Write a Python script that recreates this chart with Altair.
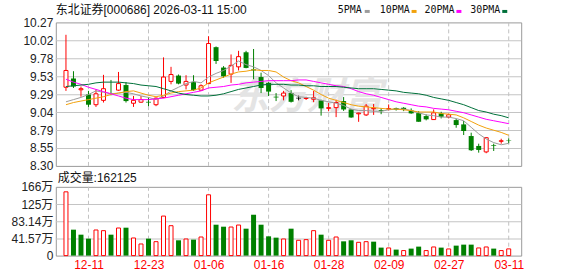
import json
import altair as alt
import pandas as pd

# ---------------- data ----------------
dates = ["12-08", "12-09", "12-10", "12-11", "12-12", "12-15", "12-16", "12-17", "12-18", "12-19",
         "12-22", "12-23", "12-24", "12-25", "12-26", "12-29", "12-30", "12-31", "01-05", "01-06",
         "01-07", "01-08", "01-09", "01-12", "01-13", "01-14", "01-15", "01-16", "01-19", "01-20",
         "01-21", "01-22", "01-23", "01-26", "01-27", "01-28", "01-29", "01-30", "02-02", "02-03",
         "02-04", "02-05", "02-06", "02-09", "02-10", "02-11", "02-12", "02-13", "02-24", "02-25",
         "02-26", "02-27", "03-02", "03-03", "03-04", "03-05", "03-06", "03-09", "03-10", "03-11"]

opens = [9.38, 9.50, 9.345, 9.28, 9.14, 9.20, 9.30, 9.34, 9.41, 9.16,
         9.175, 9.18, 9.14, 9.24, 9.46, 9.54, 9.41, 9.45, 9.34, 9.43,
         9.93, 9.65, 9.56, 9.66, 9.86, 9.625, 9.52, 9.44, 9.25, 9.26,
         9.30, 9.23, 9.225, 9.215, 9.20, 9.09, 9.10, 9.19, 9.075, 9.015,
         9.00, 9.085, 9.066, 9.08, 9.093, 9.098, 9.062, 9.025, 8.984, 8.936,
         9.021, 8.97, 8.929, 8.87, 8.71, 8.574, 8.492, 8.587, 8.638, 8.656]
highs = [10.10, 9.60, 9.39, 9.33, 9.35, 9.55, 9.48, 9.59, 9.45, 9.26,
         9.26, 9.24, 9.24, 9.79, 9.66, 9.555, 9.545, 9.545, 9.42, 10.08,
         9.94, 9.67, 9.83, 9.88, 9.88, 9.905, 9.58, 9.45, 9.30, 9.33,
         9.34, 9.265, 9.25, 9.33, 9.21, 9.165, 9.21, 9.245, 9.08, 9.03,
         9.15, 9.15, 9.093, 9.144, 9.10, 9.107, 9.089, 9.052, 9.007, 9.076,
         9.043, 9.016, 8.947, 8.916, 8.756, 8.605, 8.697, 8.605, 8.673, 8.679]
lows = [9.33, 9.37, 9.25, 9.11, 9.11, 9.17, 9.27, 9.33, 9.17, 9.11,
        9.165, 9.12, 9.12, 9.23, 9.42, 9.42, 9.35, 9.33, 9.33, 9.42,
        9.70, 9.51, 9.44, 9.61, 9.64, 9.49, 9.30, 9.26, 9.19, 9.20,
        9.17, 9.20, 9.205, 9.175, 8.99, 9.05, 8.97, 9.055, 8.96, 8.905,
        8.985, 9.00, 9.01, 9.06, 9.06, 9.052, 9.016, 8.906, 8.925, 8.933,
        8.952, 8.952, 8.824, 8.724, 8.505, 8.482, 8.474, 8.505, 8.605, 8.611]
closes = [9.61, 9.39, 9.36, 9.14, 9.29, 9.36, 9.29, 9.43, 9.19, 9.20,
          9.21, 9.17, 9.23, 9.52, 9.555, 9.43, 9.46, 9.34, 9.40, 9.98,
          9.74, 9.53, 9.68, 9.80, 9.645, 9.61, 9.37, 9.32, 9.24, 9.30,
          9.18, 9.23, 9.232, 9.235, 9.09, 9.10, 9.17, 9.075, 8.965, 9.025,
          9.12, 9.093, 9.052, 9.087, 9.07, 9.076, 9.021, 8.906, 8.939, 9.029,
          8.974, 9.002, 8.861, 8.779, 8.515, 8.519, 8.687, 8.578, 8.645, 8.65]

ma5 = [9.18, 9.21, 9.24, 9.28, 9.33, 9.31, 9.29, 9.30, 9.31, 9.29,
       9.26, 9.24, 9.21, 9.26, 9.33, 9.38, 9.43, 9.46, 9.44, 9.52,
       9.57, 9.61, 9.67, 9.74, 9.69, 9.66, 9.61, 9.54, 9.44, 9.37,
       9.30, 9.25, 9.24, 9.23, 9.20, 9.18, 9.16, 9.13, 9.08, 9.06,
       9.06, 9.05, 9.05, 9.07, 9.08, 9.08, 9.06, 9.03, 9.00, 8.99,
       8.97, 8.97, 8.95, 8.92, 8.83, 8.74, 8.67, 8.62, 8.59, 8.61]
ma10 = [9.14, 9.17, 9.19, 9.21, 9.23, 9.25, 9.28, 9.30, 9.32, 9.33,
        9.30, 9.27, 9.25, 9.27, 9.30, 9.32, 9.33, 9.34, 9.37, 9.44,
        9.48, 9.52, 9.56, 9.59, 9.60, 9.62, 9.61, 9.61, 9.59, 9.52,
        9.47, 9.44, 9.39, 9.34, 9.28, 9.23, 9.20, 9.17, 9.14, 9.12,
        9.11, 9.10, 9.09, 9.08, 9.08, 9.07, 9.06, 9.04, 9.04, 9.04,
        9.02, 9.01, 9.00, 8.96, 8.91, 8.86, 8.82, 8.79, 8.76, 8.72]
ma20 = [9.49, 9.45, 9.42, 9.38, 9.35, 9.32, 9.29, 9.26, 9.23, 9.21,
        9.21, 9.21, 9.22, 9.23, 9.25, 9.27, 9.29, 9.31, 9.33, 9.37,
        9.38, 9.39, 9.41, 9.42, 9.44, 9.45, 9.46, 9.47, 9.47, 9.47,
        9.47, 9.48, 9.48, 9.46, 9.44, 9.42, 9.40, 9.39, 9.36, 9.32,
        9.29, 9.27, 9.24, 9.21, 9.18, 9.16, 9.14, 9.12, 9.11, 9.09,
        9.08, 9.07, 9.05, 9.03, 9.00, 8.97, 8.94, 8.92, 8.90, 8.88]
ma30 = [9.39, 9.40, 9.41, 9.42, 9.44, 9.45, 9.45, 9.45, 9.44, 9.43,
        9.41, 9.40, 9.39, 9.36, 9.33, 9.30, 9.28, 9.27, 9.26, 9.26,
        9.27, 9.29, 9.32, 9.35, 9.37, 9.39, 9.41, 9.42, 9.42, 9.42,
        9.41, 9.41, 9.40, 9.40, 9.39, 9.39, 9.39, 9.38, 9.37, 9.36,
        9.36, 9.36, 9.35, 9.34, 9.33, 9.31, 9.30, 9.29, 9.27, 9.24,
        9.22, 9.20, 9.17, 9.14, 9.10, 9.06, 9.04, 9.01, 8.99, 8.96]

# volume in 万 (10k)
volumes = [154.2, 62.7, 50.6, 41.0, 61.9, 60.3, 50.6, 66.7, 67.5, 42.6,
           28.1, 41.0, 33.7, 95.6, 72.3, 37.0, 40.2, 38.6, 45.0, 147.0,
           74.7, 69.9, 69.1, 73.9, 65.1, 98.8, 74.7, 46.6, 43.4, 40.2,
           65.1, 37.0, 38.6, 60.3, 50.6, 37.0, 45.0, 34.5, 37.0, 32.1,
           33.7, 33.7, 19.3, 18.5, 14.5, 12.1, 16.9, 21.7, 12.1, 20.9,
           19.3, 16.1, 24.1, 26.5, 26.5, 18.5, 20.9, 16.9, 12.1, 16.21]
vol_colors = ("R G G G R R G R G R "
              "R G R R R G R G R R "
              "G G R R G G G G G R "
              "G R R R G R R G G R "
              "R G G R G R G G R R "
              "G R G G G R R G R R").split()

price_ticks = [8.30, 8.54625, 8.7925, 9.03875, 9.285, 9.53125, 9.7775, 10.02375, 10.27]
price_tick_labels = ["8.30", "8.55", "8.79", "9.04", "9.29", "9.53", "9.78", "10.02", "10.27"]
vol_ticks = [0, 41.57, 83.14, 124.71, 166.28]
vol_tick_labels = ["0", "41.57万", "83.14万", "125万", "166万"]
date_ticks = [3, 11, 19, 27, 35, 43, 51, 59]

title_text = "东北证券[000686] 2026-03-11  15:00"
vol_title = "成交量:162125"
ma_names = ["5PMA", "10PMA", "20PMA", "30PMA"]
ma_colors = ["#9c9c9c", "#f2a20c", "#ff00ff", "#00703a"]
watermark = "东方财富"

# ---------------- tables ----------------
n = len(dates)
df = pd.DataFrame({"idx": list(range(n)), "date": dates, "open": opens, "high": highs,
                   "low": lows, "close": closes, "vol": volumes, "vcol": vol_colors})
df["dir"] = ["up" if c > o else ("down" if c < o else "flat") for o, c in zip(opens, closes)]

ma_df = pd.concat([pd.DataFrame({"idx": list(range(n)), "series": name, "value": vals})
                   for name, vals in zip(ma_names, [ma5, ma10, ma20, ma30])], ignore_index=True)

price_grid_df = pd.DataFrame({"gv": price_ticks[1:-1]})
vol_grid_df = pd.DataFrame({"gv": vol_ticks[1:-1]})
date_grid_df = pd.DataFrame({"idx": date_ticks})

FONT = "Liberation Sans, Noto Sans CJK SC"
RED = "#ff0000"
GREEN = "#008000"
HGRID = "#c4c4c4"
VGRID = "#c2c2c2"
W, HP, HV = 467, 144, 69

xscale = alt.Scale(domain=[-0.69, 60.0], nice=False, zero=False)
pscale = alt.Scale(domain=[8.30, 10.27], nice=False, zero=False)
vscale = alt.Scale(domain=[0, 166.28], nice=False, zero=False)

price_label_expr = json.dumps(price_tick_labels) + "[round((datum.value - 8.30) / 0.24625)]"
vol_label_expr = json.dumps(vol_tick_labels, ensure_ascii=False) + "[round(datum.value / 41.57)]"
date_label_expr = json.dumps(dates) + "[round(datum.value)]"

x_price_axis = alt.Axis(values=date_ticks, labels=False, ticks=False, domain=False,
                        grid=False, title=None)
x_vol_axis = alt.Axis(values=date_ticks, labelExpr=date_label_expr, ticks=False, domain=False,
                      grid=False, title=None,
                      labelColor=RED, labelPadding=4, labelFlush=False, labelOverlap=False)
y_price_axis = alt.Axis(values=price_ticks, labelExpr=price_label_expr, ticks=False, domain=False,
                        grid=False, labelPadding=3, title=None,
                        labelFlush=False, labelOverlap=False, labelBound=False)
y_vol_axis = alt.Axis(values=vol_ticks, labelExpr=vol_label_expr, ticks=False, domain=False,
                      grid=False, labelPadding=3, title=None,
                      labelFlush=False, labelOverlap=False, labelBound=False)


def xp(field="idx"):
    return alt.X(field, type="quantitative", scale=xscale, axis=x_price_axis)


def xv(field="idx"):
    return alt.X(field, type="quantitative", scale=xscale, axis=x_vol_axis)


def yp(field):
    return alt.Y(field, type="quantitative", scale=pscale, axis=y_price_axis)


def yv(field):
    return alt.Y(field, type="quantitative", scale=vscale, axis=y_vol_axis)


one = alt.Data(values=[{}])

# ---------------- price panel ----------------
base = alt.Chart(df)

# horizontal grid as 1px filled strips (crisp)
p_hgrid = alt.Chart(price_grid_df).mark_rect(color=HGRID, y2Offset=1).encode(
    x=alt.value(0), x2=alt.value(W), y=yp("gv"), y2="gv")
p_vgrid = alt.Chart(date_grid_df).mark_rule(color=VGRID, strokeWidth=1, strokeDash=[4, 3]).encode(
    x=xp(), y=alt.value(0), y2=alt.value(HP))

wm = alt.Chart(one).mark_text(text=watermark, font="Noto Sans CJK SC", fontSize=38,
                              fontWeight="bold", fontStyle="italic", color="#e4e4e4",
                              align="center", baseline="middle").encode(
    x=alt.value(252), y=alt.value(76))

wick_layers = []
for d, col in [("up", RED), ("down", GREEN), ("flat", "#000000")]:
    wick_layers.append(
        base.transform_filter(f"datum.dir == '{d}'").mark_rule(strokeWidth=1, color=col).encode(
            x=xp(), y=yp("low"), y2="high"))

body_up = base.transform_filter("datum.dir == 'up'").mark_bar(
    size=4, fill="white", stroke=RED, strokeWidth=1).encode(
    x=xp(), y=yp("open"), y2="close")

body_down = base.transform_filter("datum.dir == 'down'").mark_bar(
    size=5, color=GREEN).encode(
    x=xp(), y=yp("open"), y2="close")

body_flat = base.transform_filter("datum.dir == 'flat'").mark_tick(
    orient="horizontal", size=5, thickness=1, color="#000000").encode(
    x=xp(), y=yp("close"))

lines = alt.Chart(ma_df).mark_line(strokeWidth=1).encode(
    x=xp(),
    y=yp("value"),
    color=alt.Color("series:N", scale=alt.Scale(domain=ma_names, range=ma_colors), legend=None),
    order="idx:Q")

title_mark = alt.Chart(one).mark_text(text=title_text, font=FONT, fontSize=12, color="#111111",
                                      align="left", baseline="middle").encode(
    x=alt.value(0), y=alt.value(-12))

legend_layers = []
legend_x = [283, 325, 370, 416]
for name, col, lx in zip(ma_names, ma_colors, legend_x):
    legend_layers.append(
        alt.Chart(one).mark_text(text=name, font="DejaVu Sans Mono", fontSize=10, color="#111111",
                                 align="left", baseline="middle").encode(
            x=alt.value(lx), y=alt.value(-12)))
    dx = lx + (27 if name == "5PMA" else 32)
    legend_layers.append(
        alt.Chart(one).mark_rule(strokeWidth=3, color=col).encode(
            x=alt.value(dx), x2=alt.value(dx + 5), y=alt.value(-11)))

anchor_tl = alt.Chart(one).mark_rect(color="white").encode(
    x=alt.value(-55), x2=alt.value(-54), y=alt.value(-21), y2=alt.value(-20))

price = alt.layer(p_hgrid, p_vgrid, wm, *wick_layers, body_up, body_down, body_flat, lines,
                  title_mark, *legend_layers, anchor_tl).properties(width=W, height=HP)

# ---------------- volume panel ----------------
v_hgrid = alt.Chart(vol_grid_df).mark_rect(color=HGRID, y2Offset=1).encode(
    x=alt.value(0), x2=alt.value(W), y=yv("gv"), y2="gv")
v_vgrid = alt.Chart(date_grid_df).mark_rule(color=VGRID, strokeWidth=1, strokeDash=[4, 3]).encode(
    x=xv(), y=alt.value(0), y2=alt.value(HV))

vol_up = base.transform_filter("datum.vcol == 'R'").mark_bar(
    size=4, fill="white", stroke=RED, strokeWidth=1).encode(
    x=xv(), y=yv("vol"), y2=alt.datum(0))

vol_down = base.transform_filter("datum.vcol == 'G'").mark_bar(
    size=5, color=GREEN).encode(
    x=xv(), y=yv("vol"), y2=alt.datum(0))

vol_title_mark = alt.Chart(one).mark_text(text=vol_title, font=FONT, fontSize=12, color="#111111",
                                          align="left", baseline="middle").encode(
    x=alt.value(2), y=alt.value(-9))

anchor_br = alt.Chart(one).mark_rect(color="white").encode(
    x=alt.value(W + 55), x2=alt.value(W + 56), y=alt.value(HV + 20), y2=alt.value(HV + 21))

volume = alt.layer(v_hgrid, v_vgrid, vol_up, vol_down, vol_title_mark,
                   anchor_br).properties(width=W, height=HV)

chart = alt.vconcat(price, volume, spacing=21, bounds="flush").properties(
    padding={"left": 0, "top": 0, "right": 0, "bottom": 0}
).configure_view(
    stroke="#9a9a9a", strokeWidth=1
).configure_axis(
    labelFont=FONT, labelFontSize=12, labelColor="#222222", labelOverlap=False
)

chart.save("out.html", embed_options={"renderer": "svg", "actions": False})
